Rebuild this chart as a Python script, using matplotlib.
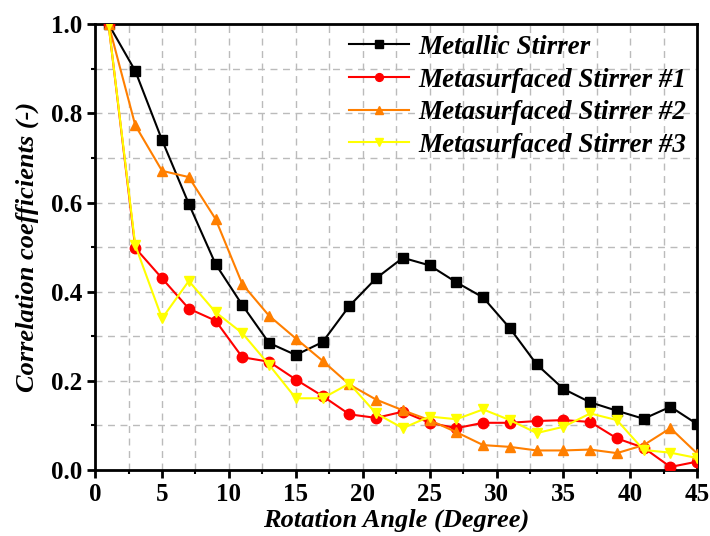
import matplotlib
matplotlib.use("Agg")
import matplotlib.pyplot as plt
from matplotlib.ticker import MultipleLocator

angles = [1, 3, 5, 7, 9, 11, 13, 15, 17, 19, 21, 23, 25, 27, 29, 31, 33, 35, 37, 39, 41, 43, 45]
metallic = [1.0, 0.895, 0.74, 0.597, 0.462, 0.37, 0.285, 0.258, 0.287, 0.368, 0.43, 0.476,
            0.459, 0.421, 0.387, 0.318, 0.237, 0.182, 0.152, 0.133, 0.115, 0.142, 0.103]
meta1 = [1.0, 0.498, 0.43, 0.362, 0.335, 0.253, 0.243, 0.203, 0.166, 0.125, 0.117, 0.131,
         0.106, 0.094, 0.106, 0.106, 0.110, 0.112, 0.108, 0.071, 0.05, 0.007, 0.019]
meta2 = [1.0, 0.773, 0.671, 0.657, 0.563, 0.417, 0.346, 0.295, 0.245, 0.192, 0.158, 0.134,
         0.112, 0.085, 0.056, 0.052, 0.044, 0.044, 0.046, 0.038, 0.056, 0.094, 0.037]
meta3 = [1.0, 0.504, 0.34, 0.424, 0.354, 0.307, 0.236, 0.161, 0.161, 0.194, 0.127, 0.094,
         0.12, 0.114, 0.136, 0.112, 0.083, 0.097, 0.127, 0.112, 0.045, 0.039, 0.027]

labels = ["Metallic Stirrer", "Metasurfaced Stirrer #1", "Metasurfaced Stirrer #2", "Metasurfaced Stirrer #3"]
series = [metallic, meta1, meta2, meta3]
colors = ["#000000", "#FF0000", "#FF7F00", "#FFFF00"]
markers = ["s", "o", "^", "v"]

plt.rcParams['font.family'] = ['Liberation Serif', 'DejaVu Serif']

fig = plt.figure(figsize=(7.1, 5.36), dpi=100)
ax = fig.add_axes([0.134, 0.123, 0.848, 0.832])

for y, lab, c, m in zip(series, labels, colors, markers):
    ax.plot(angles, y, color=c, marker=m, markersize=7.5, linewidth=1.5, label=lab, zorder=3)

ax.set_xlim(0, 45)
ax.set_ylim(0, 1.0)
ax.xaxis.set_major_locator(MultipleLocator(5))
ax.xaxis.set_minor_locator(MultipleLocator(2.5))
ax.yaxis.set_major_locator(MultipleLocator(0.2))
ax.yaxis.set_minor_locator(MultipleLocator(0.1))
ax.set_yticks([0.0, 0.2, 0.4, 0.6, 0.8, 1.0])
ax.set_yticklabels(["0.0", "0.2", "0.4", "0.6", "0.8", "1.0"])
ax.grid(True, which='both', color='#bbbbbb', linestyle=(0, (5, 4)), linewidth=1.0, zorder=0)
ax.set_axisbelow(True)

for sp in ax.spines.values():
    sp.set_linewidth(2.0)
ax.tick_params(which='major', direction='out', length=5.5, width=2, labelsize=18, pad=4,
               top=False, right=False)
ax.tick_params(which='minor', direction='out', length=3, width=1.5, top=False, right=False)
for t in ax.get_xticklabels() + ax.get_yticklabels():
    t.set_fontweight('bold')

ax.set_xlabel("Rotation Angle (Degree)", fontsize=19, fontweight='bold', fontstyle='italic', labelpad=1.5)
ax.set_ylabel("Correlation coefficients (-)", fontsize=19, fontweight='bold', fontstyle='italic', labelpad=8)

leg = ax.legend(loc='upper right', frameon=False, prop={'size': 19.5, 'weight': 'bold', 'style': 'italic'},
                handlelength=2.2, handletextpad=0.35, labelspacing=0.28, borderaxespad=0.0,
                markerscale=0.75)

fig.savefig("out.png", dpi=100)
